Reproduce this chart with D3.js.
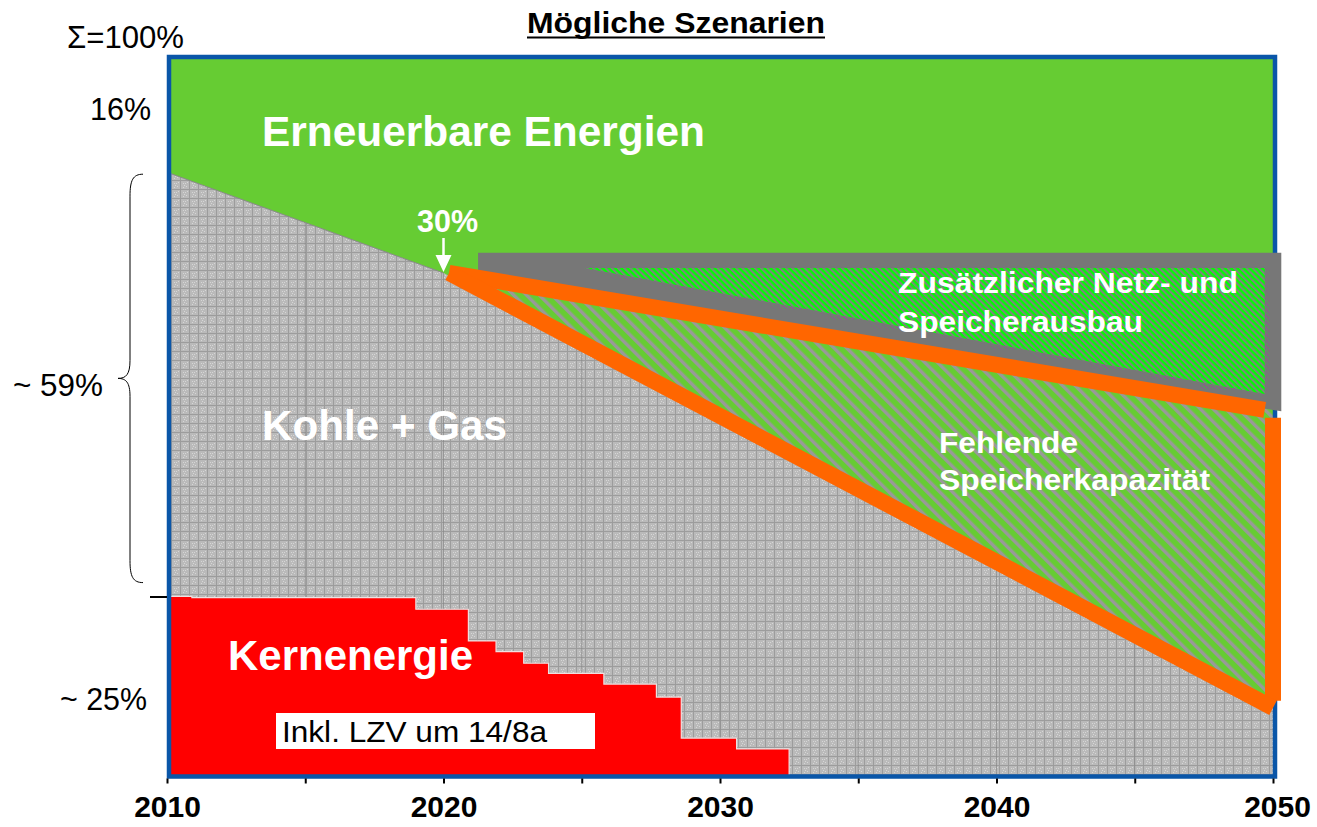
<!DOCTYPE html>
<html>
<head>
<meta charset="utf-8">
<script src="https://cdn.jsdelivr.net/npm/d3@7"></script>
<style>
  body { margin: 0; background: #fff; }
  svg { display: block; }
  text { font-family: "Liberation Sans", Arial, sans-serif; }
</style>
</head>
<body>
<div id="chart"></div>
<script>
// Anteile in % der Stromerzeugung
const tickYears = [2010, 2015, 2020, 2025, 2030, 2035, 2040, 2045, 2050];
const labelYears = [2010, 2020, 2030, 2040, 2050];

// Oberkante Kohle + Gas
const fossilYears = [2010, 2020, 2050];
const fossilTop = [84, 70, 10];

// Kernenergie (Stufen, inkl. LZV)
const nuclearYears = [2010, 2010.9, 2019, 2020.9, 2021.9, 2022.9, 2023.8, 2025.8, 2027.7, 2028.6, 2030.6, 2032.5];
const nuclearShare = [25.1, 24.9, 23.3, 18.9, 17.4, 15.8, 14.4, 12.9, 11.1, 5.4, 3.9, 0];

// Szenario-Dreieck (orange)
const scenYears = [2020.2, 2050];
const scenUpper = [70, 51];
const scenLower = [70, 10];

// Netz- und Speicherausbau (grauer Rahmen + Schraffur)
const netzYears = [2021.25, 2050.3];
const netzTop = 72.8;
const netzHatchYears = [2025.1, 2049.7];
const netzHatchTop = 70.7;
const netzHatchBottom = 53.2;

const W = 1317, H = 827;
const x = d3.scaleLinear().domain([2010, 2050]).range([167, 1273]);
const y = d3.scaleLinear().domain([0, 100]).range([777, 57]);

const svg = d3.select("#chart").append("svg")
    .attr("width", W)
    .attr("height", H);

const defs = svg.append("defs");

// Textur Kohle + Gas
const pc = defs.append("pattern").attr("id", "coal")
    .attr("patternUnits", "userSpaceOnUse").attr("width", 9).attr("height", 9);
pc.append("rect").attr("width", 9).attr("height", 9).attr("fill", "#bababa");
pc.append("rect").attr("width", 9).attr("height", 1).attr("fill", "#9c9c9c");
pc.append("rect").attr("width", 1).attr("height", 9).attr("fill", "#9c9c9c");
[[3, 3], [5, 3], [4, 5], [3, 7], [6, 6], [7, 2]].forEach(p => {
    pc.append("rect").attr("x", p[0]).attr("y", p[1]).attr("width", 1).attr("height", 1).attr("fill", "#d6d6d6");
});

// Schraffur fehlende Speicherkapazitaet
const ph = defs.append("pattern").attr("id", "hatchMissing")
    .attr("patternUnits", "userSpaceOnUse").attr("width", 9).attr("height", 9)
    .attr("patternTransform", "rotate(-45)");
ph.append("rect").attr("width", 9).attr("height", 9).attr("fill", "#66cc33");
ph.append("rect").attr("width", 3.4).attr("height", 9).attr("fill", "#999999");

// Schraffur Netzausbau
const pn = defs.append("pattern").attr("id", "hatchNetz")
    .attr("patternUnits", "userSpaceOnUse").attr("width", 4.4).attr("height", 4.4)
    .attr("patternTransform", "rotate(-45)");
pn.append("rect").attr("width", 4.4).attr("height", 4.4).attr("fill", "#00ff00");
pn.append("rect").attr("width", 2.1).attr("height", 4.4).attr("fill", "#808080");

// Clip auf den Diagrammrahmen
defs.append("clipPath").attr("id", "frameClip")
    .append("rect")
    .attr("x", x(2010) + 2).attr("y", y(100))
    .attr("width", x(2050) - x(2010)).attr("height", y(0) - y(100));

const fossilPts = [[2010, 0]].concat(fossilYears.map((yr, i) => [yr, fossilTop[i]]), [[2050, 0]]);
defs.append("clipPath").attr("id", "fossilClip")
    .append("path")
    .attr("d", d3.line().x(d => x(d[0])).y(d => y(d[1]))(fossilPts) + "Z");

const plot = svg.append("g").attr("clip-path", "url(#frameClip)");

// Erneuerbare (Hintergrund)
plot.append("rect")
    .attr("x", x(2010)).attr("y", y(100))
    .attr("width", x(2050) - x(2010) + 4).attr("height", y(0) - y(100))
    .attr("fill", "#66cc33");

// Kohle + Gas
plot.append("path")
    .attr("d", d3.line().x(d => x(d[0])).y(d => y(d[1]))(fossilPts) + "Z")
    .attr("fill", "url(#coal)");

plot.append("g").attr("clip-path", "url(#fossilClip)")
    .selectAll("line").data(tickYears.slice(1, -1)).join("line")
    .attr("x1", d => x(d)).attr("x2", d => x(d))
    .attr("y1", y(100)).attr("y2", y(0))
    .attr("stroke", "#888").attr("stroke-opacity", 0.7).attr("stroke-width", 1);

plot.append("path")
    .attr("d", d3.line().x((d, i) => x(fossilYears[i])).y(d => y(d))(fossilTop.slice(0, 2)))
    .attr("fill", "none").attr("stroke", "#8a8a8a").attr("stroke-width", 1);

// Fehlende Speicherkapazitaet
const tri = [[scenYears[0], scenUpper[0]], [scenYears[1], scenUpper[1]], [scenYears[1], scenLower[1]]];
plot.append("path")
    .attr("d", d3.line().x(d => x(d[0])).y(d => y(d[1]))(tri) + "Z")
    .attr("fill", "url(#hatchMissing)");

// Kernenergie
const nuc = nuclearYears.map((yr, i) => [yr, nuclearShare[i]]);
plot.append("path")
    .datum(nuc)
    .attr("d", d3.area().curve(d3.curveStepAfter).x(d => x(d[0])).y0(y(0)).y1(d => y(d[1])))
    .attr("fill", "#ff0000");
plot.append("path")
    .datum(nuc)
    .attr("d", d3.line().curve(d3.curveStepAfter).x(d => x(d[0])).y(d => y(d[1])))
    .attr("fill", "none").attr("stroke", "#f0e0e0").attr("stroke-width", 1.2);

// Rahmen
svg.append("rect")
    .attr("x", x(2010) + 2).attr("y", y(100))
    .attr("width", x(2050) - x(2010)).attr("height", y(0) - y(100) - 0.5)
    .attr("fill", "none").attr("stroke", "#0a56a8").attr("stroke-width", 4.5);

// Netz- und Speicherausbau
const upperAt = yr => scenUpper[0] + (yr - scenYears[0]) * (scenUpper[1] - scenUpper[0]) / (scenYears[1] - scenYears[0]);
const netzPts = [
    [netzYears[0], netzTop], [netzYears[1], netzTop],
    [netzYears[1], upperAt(netzYears[1])], [netzYears[0], upperAt(netzYears[0]) - 1]
];
svg.append("path")
    .attr("d", d3.line().x(d => x(d[0])).y(d => y(d[1]))(netzPts) + "Z")
    .attr("fill", "#777777");
const netzHatch = [[netzHatchYears[0], netzHatchTop], [netzHatchYears[1], netzHatchTop], [netzHatchYears[1], netzHatchBottom]];
svg.append("path")
    .attr("d", d3.line().x(d => x(d[0])).y(d => y(d[1]))(netzHatch) + "Z")
    .attr("fill", "url(#hatchNetz)");

// Orange Szenario-Linien
const orange = [
    [[scenYears[0], scenUpper[0]], [scenYears[1] - 0.3, scenUpper[1]]],
    [[scenYears[1], scenUpper[1] - 1.1], [scenYears[1], scenLower[1] + 0.6]],
    [[scenYears[0], scenLower[0]], [scenYears[1], scenLower[1] - 0.4]]
];
svg.append("g").selectAll("path").data(orange).join("path")
    .attr("d", d3.line().x(d => x(d[0])).y(d => y(d[1])))
    .attr("fill", "none").attr("stroke", "#ff6600")
    .attr("stroke-width", 16).attr("stroke-linecap", "butt");

// X-Achse
const xAxis = svg.append("g")
    .attr("transform", `translate(0,${y(0) + 1.5})`)
    .call(d3.axisBottom(x).tickValues(tickYears).tickSize(5).tickFormat(d => labelYears.includes(d) ? d : ""));
xAxis.select(".domain").remove();
xAxis.selectAll(".tick line").attr("stroke", "#000").attr("stroke-width", 2);
xAxis.selectAll(".tick text")
    .attr("y", 38).attr("dy", null)
    .attr("fill", "#000")
    .style("font-size", "30px").style("font-weight", "bold")
    .style("font-family", '"Liberation Sans", Arial, sans-serif');
xAxis.selectAll(".tick").filter(d => d === 2050).select("text").attr("x", 4);

// Text mit fester Laenge (wie im Original etwas breiter gesetzt)
function label(g, tx, ty, str, len) {
    return g.append("text").attr("x", tx).attr("y", ty)
        .attr("textLength", len).attr("lengthAdjust", "spacingAndGlyphs")
        .text(str);
}

// Y-Markierung bei 25 %
svg.append("line")
    .attr("x1", 150).attr("x2", x(2010))
    .attr("y1", y(25)).attr("y2", y(25))
    .attr("stroke", "#000").attr("stroke-width", 2);

// Geschweifte Klammer ~59 %
const bt = y(84) + 2, bb = y(27), bm = (bt + bb) / 2;
svg.append("path")
    .attr("d", `M143,${bt} C133,${bt} 130,${bt + 6} 130,${bt + 22} L130,${bm - 18} C130,${bm - 4} 126,${bm} 118,${bm}` +
        ` C126,${bm} 130,${bm + 4} 130,${bm + 18} L130,${bb - 22} C130,${bb - 6} 133,${bb} 143,${bb}`)
    .attr("fill", "none").attr("stroke", "#000").attr("stroke-width", 1);

// Beschriftungen links
const left = svg.append("g").attr("fill", "#000").style("font-size", "31px");
label(left, 67, 48, "Σ=100%", 117);
label(left, 90, 120, "16%", 61);
label(left, 13, 396, "~ 59%", 90);
label(left, 60, 710, "~ 25%", 87);

// Titel
const titleG = svg.append("g").style("font-size", "29px").style("font-weight", "bold");
label(titleG, 527, 33, "Mögliche Szenarien", 298);
svg.append("line")
    .attr("x1", 527).attr("x2", 825)
    .attr("y1", 37.5).attr("y2", 37.5)
    .attr("stroke", "#000").attr("stroke-width", 2);

// Flaechenbeschriftungen
const big = svg.append("g").attr("fill", "#fff").style("font-weight", "bold").style("font-size", "42px");
label(big, 262, 146, "Erneuerbare Energien", 443);
label(big, 262, 440, "Kohle + Gas", 245);
label(big, 228, 670, "Kernenergie", 245);

const mid = svg.append("g").attr("fill", "#fff").style("font-weight", "bold").style("font-size", "29px");
label(mid, 898, 293, "Zusätzlicher Netz- und", 340);
label(mid, 898, 332, "Speicherausbau", 245);
label(mid, 939, 453, "Fehlende", 139);
label(mid, 939, 490, "Speicherkapazität", 271);
label(mid, 417, 232, "30%", 61).style("font-size", "31px");

// Pfeil auf 30 %
const ax = x(2020);
svg.append("line").attr("x1", ax).attr("x2", ax).attr("y1", 238).attr("y2", 257)
    .attr("stroke", "#fff").attr("stroke-width", 2.5);
svg.append("path").attr("d", `M${ax - 8},255 L${ax + 8},255 L${ax},${y(70) - 1}Z`).attr("fill", "#fff");

// LZV-Hinweis
svg.append("rect").attr("x", 276).attr("y", 713).attr("width", 319).attr("height", 36).attr("fill", "#fff");
const note = svg.append("g").attr("fill", "#000").style("font-size", "30px");
label(note, 282, 742, "Inkl. LZV um 14/8a", 265);
</script>
</body>
</html>
